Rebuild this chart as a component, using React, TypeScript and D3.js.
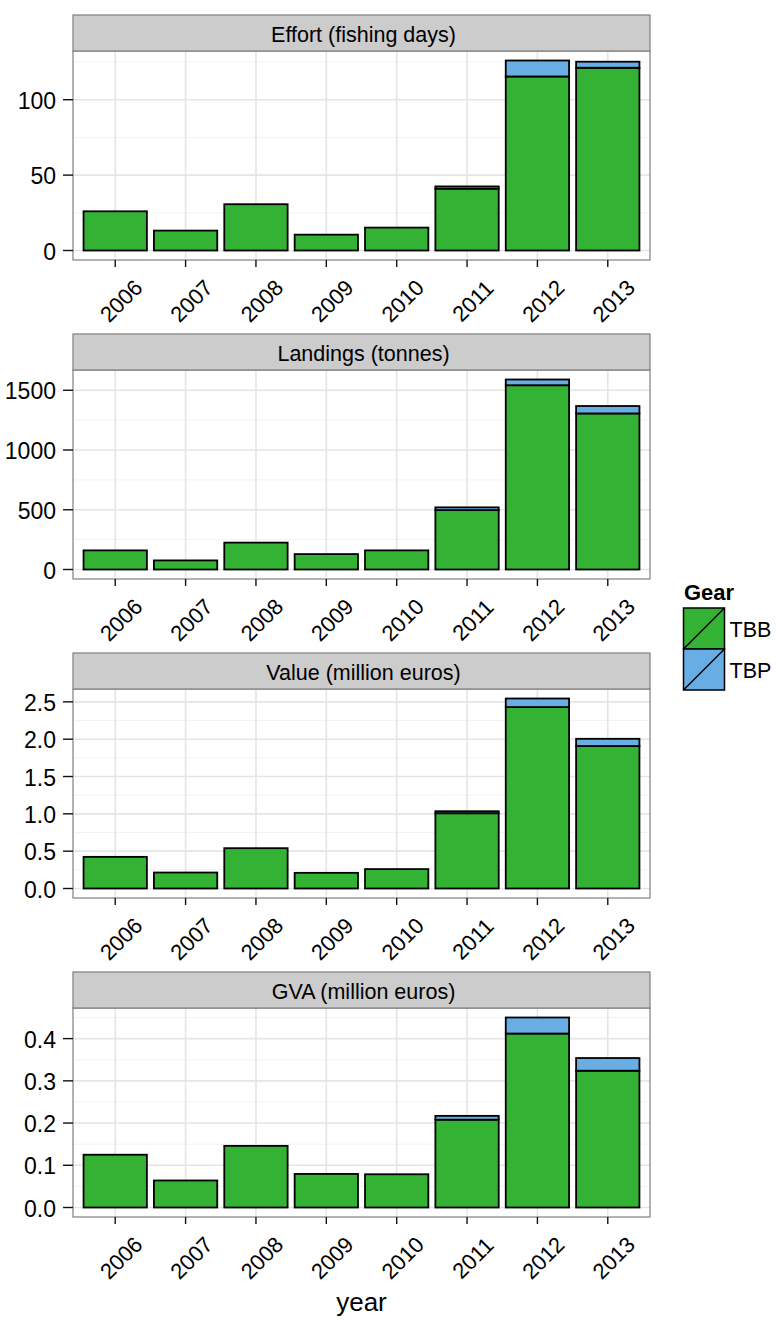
import { scaleLinear } from "d3";

const years = [2006, 2007, 2008, 2009, 2010, 2011, 2012, 2013];

const effortTBB = [26, 13.2, 30.7, 10.5, 15.2, 41, 115.4, 121.2];
const effortTBP = [0, 0, 0, 0, 0, 1.5, 10.6, 4];
const landingsTBB = [160, 76, 225, 129, 160, 497, 1542, 1306];
const landingsTBP = [0, 0, 0, 0, 0, 23, 48, 62];
const valueTBB = [0.424, 0.214, 0.54, 0.21, 0.26, 1.008, 2.43, 1.908];
const valueTBP = [0, 0, 0, 0, 0, 0.027, 0.115, 0.097];
const gvaTBB = [0.125, 0.064, 0.146, 0.0795, 0.0787, 0.208, 0.412, 0.324];
const gvaTBP = [0, 0, 0, 0, 0, 0.009, 0.038, 0.03];

const effortTicks = [0, 50, 100];
const landingsTicks = [0, 500, 1000, 1500];
const valueTicks = [0, 0.5, 1, 1.5, 2, 2.5];
const gvaTicks = [0, 0.1, 0.2, 0.3, 0.4];

const gears = ["TBB", "TBP"];
const gearColors = ["#34b234", "#68ade4"];

const panels = [
  { title: "Effort (fishing days)", tbb: effortTBB, tbp: effortTBP, ticks: effortTicks, digits: 0 },
  { title: "Landings (tonnes)", tbb: landingsTBB, tbp: landingsTBP, ticks: landingsTicks, digits: 0 },
  { title: "Value (million euros)", tbb: valueTBB, tbp: valueTBP, ticks: valueTicks, digits: 1 },
  { title: "GVA (million euros)", tbb: gvaTBB, tbp: gvaTBP, ticks: gvaTicks, digits: 1 },
];

const width = 776;
const height = 1320;
const left = 73;
const right = 650;
const firstTop = 15;
const pitch = 319;
const stripH = 36;
const plotH = 209;
const font = "'Liberation Sans', Arial, sans-serif";

const xScale = scaleLinear().domain([0.4, years.length + 0.6]).range([left, right]);
const barHalf = 0.45;

const Panel = ({ p, top }: { p: (typeof panels)[number]; top: number }) => {
  const plotTop = top + stripH;
  const plotBottom = plotTop + plotH;
  const totals = p.tbb.map((v, i) => v + p.tbp[i]);
  const maxV = Math.max(...totals);
  const y = scaleLinear()
    .domain([-0.05 * maxV, 1.05 * maxV])
    .range([plotBottom, plotTop]);
  const step = p.ticks[1] - p.ticks[0];
  const minor: number[] = [];
  for (let v = p.ticks[0] + step / 2; v < 1.05 * maxV; v += step) minor.push(v);

  return (
    <g>
      <rect x={left} y={plotTop} width={right - left} height={plotH} fill="white" />
      {minor.map((v) => (
        <line key={"m" + v} x1={left} x2={right} y1={y(v)} y2={y(v)} stroke="#f2f2f2" strokeWidth={1} />
      ))}
      {p.ticks.map((v) => (
        <line key={"g" + v} x1={left} x2={right} y1={y(v)} y2={y(v)} stroke="#e5e5e5" strokeWidth={1.6} />
      ))}
      {years.map((yr, i) => (
        <line key={"v" + yr} x1={xScale(i + 1)} x2={xScale(i + 1)} y1={plotTop} y2={plotBottom} stroke="#e5e5e5" strokeWidth={1.6} />
      ))}
      {years.map((yr, i) => {
        const x0 = xScale(i + 1 - barHalf);
        const x1 = xScale(i + 1 + barHalf);
        return (
          <g key={"b" + yr}>
            <rect x={x0} width={x1 - x0} y={y(p.tbb[i])} height={y(0) - y(p.tbb[i])} fill={gearColors[0]} stroke="black" strokeWidth={1.8} />
            {p.tbp[i] > 0 && (
              <rect x={x0} width={x1 - x0} y={y(totals[i])} height={y(p.tbb[i]) - y(totals[i])} fill={gearColors[1]} stroke="black" strokeWidth={1.8} />
            )}
          </g>
        );
      })}
      <rect x={left} y={plotTop} width={right - left} height={plotH} fill="none" stroke="#7f7f7f" strokeWidth={1.2} />
      <rect x={left} y={top} width={right - left} height={stripH} fill="#cccccc" stroke="#7f7f7f" strokeWidth={1.2} />
      <text x={(left + right) / 2 + 2} y={top + stripH / 2 + 2} textAnchor="middle" dominantBaseline="central" fontSize={21.5} fontFamily={font} fill="#000">
        {p.title}
      </text>
      {p.ticks.map((v) => (
        <g key={"t" + v}>
          <line x1={left - 10} x2={left} y1={y(v)} y2={y(v)} stroke="#111" strokeWidth={1.4} />
          <text x={left - 17} y={y(v) + 1} textAnchor="end" dominantBaseline="central" fontSize={23} fontFamily={font} fill="#000">
            {v.toFixed(p.digits)}
          </text>
        </g>
      ))}
      {years.map((yr, i) => {
        const cx = xScale(i + 1);
        return (
          <g key={"x" + yr}>
            <line x1={cx} x2={cx} y1={plotBottom} y2={plotBottom + 7} stroke="#111" strokeWidth={1.4} />
            <text transform={`translate(${cx + 6},${plotBottom + 41}) rotate(-45)`} textAnchor="middle" dominantBaseline="central" fontSize={22} fontFamily={font} fill="#000">
              {yr}
            </text>
          </g>
        );
      })}
    </g>
  );
};

export default function App() {
  const keyX = 683.5;
  const keyY = 608;
  const keyS = 41;
  return (
    <svg width={width} height={height} style={{ position: "absolute", left: 0, top: 0 }}>
      <rect width={width} height={height} fill="white" />
      {panels.map((p, i) => (
        <Panel key={p.title} p={p} top={firstTop + i * pitch} />
      ))}
      <text x={(left + right) / 2} y={1311} textAnchor="middle" fontSize={26} fontFamily={font} fill="#000">
        year
      </text>
      <text x={684} y={600} fontSize={22} fontWeight="bold" fontFamily={font} fill="#000">
        Gear
      </text>
      {gears.map((g, i) => {
        const ky = keyY + i * keyS;
        return (
          <g key={g}>
            <rect x={keyX} y={ky} width={keyS} height={keyS} fill={gearColors[i]} stroke="black" strokeWidth={1.5} />
            <line x1={keyX} y1={ky + keyS} x2={keyX + keyS} y2={ky} stroke="black" strokeWidth={1.5} />
            <text x={keyX + keyS + 5} y={ky + keyS / 2 + 1} dominantBaseline="central" fontSize={21.5} fontFamily={font} fill="#000">
              {g}
            </text>
          </g>
        );
      })}
    </svg>
  );
}
